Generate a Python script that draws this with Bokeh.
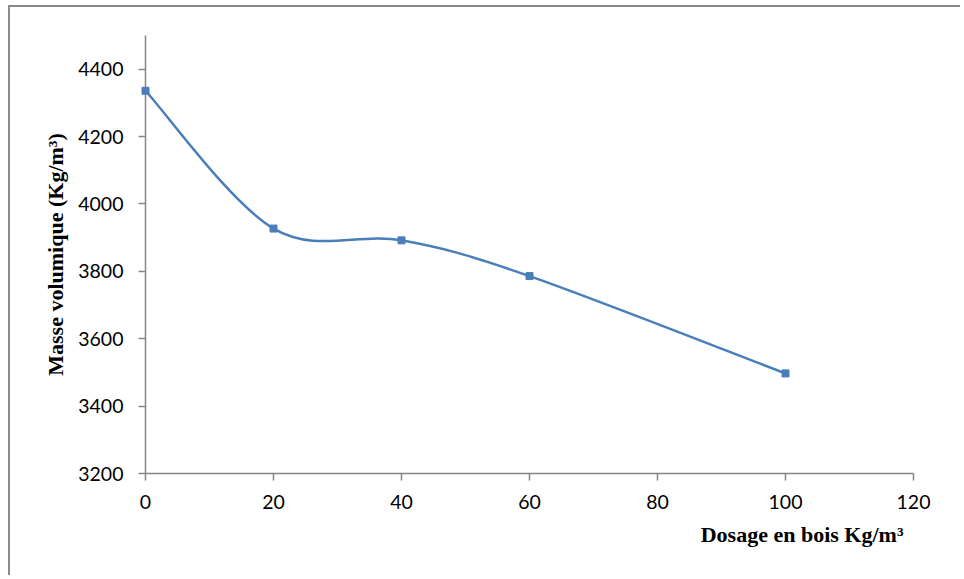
from bokeh.plotting import figure
from bokeh.models import Range1d, FixedTicker, Title, ColumnDataSource
from bokeh.embed import file_html
from bokeh.resources import INLINE

# ---- data ----
dosage = [0, 20, 40, 60, 100]                 # Dosage en bois (Kg/m³)
masse = [4336, 3927, 3892, 3786, 3497]        # Masse volumique (Kg/m³)
x_ticks = [0, 20, 40, 60, 80, 100, 120]
y_ticks = [3200, 3400, 3600, 3800, 4000, 4200, 4400]

x_title = "Dosage en bois Kg/m³"
y_title = "Masse volumique (Kg/m³)"

# ---- Excel-like smoothed line: Catmull-Rom -> cubic Bezier segments ----
n = len(dosage)
x0, y0, x1, y1, cx0, cy0, cx1, cy1 = [], [], [], [], [], [], [], []
for i in range(n - 1):
    pa = (dosage[max(i - 1, 0)], masse[max(i - 1, 0)])
    pb = (dosage[i], masse[i])
    pc = (dosage[i + 1], masse[i + 1])
    pd = (dosage[min(i + 2, n - 1)], masse[min(i + 2, n - 1)])
    x0.append(pb[0]); y0.append(pb[1])
    x1.append(pc[0]); y1.append(pc[1])
    cx0.append(pb[0] + (pc[0] - pa[0]) / 6.0)
    cy0.append(pb[1] + (pc[1] - pa[1]) / 6.0)
    cx1.append(pc[0] - (pd[0] - pb[0]) / 6.0)
    cy1.append(pc[1] - (pd[1] - pb[1]) / 6.0)

curve = ColumnDataSource(dict(x0=x0, y0=y0, x1=x1, y1=y1,
                              cx0=cx0, cy0=cy0, cx1=cx1, cy1=cy1))
pts = ColumnDataSource(dict(x=dosage, y=masse))

BLUE = "#4a7ebb"
AXIS = "#868686"

p = figure(width=952, height=570, output_backend="svg", toolbar_location=None,
           x_range=Range1d(0, 120), y_range=Range1d(3200, 4500),
           min_border_left=135, min_border_right=49,
           min_border_top=28, min_border_bottom=104,
           background_fill_color="white", border_fill_color="white")
p.styles = {"border-top": "2px solid #8a8a8a", "border-left": "2px solid #8a8a8a",
            "margin-left": "8px", "margin-top": "5px"}
p.outline_line_color = None
p.grid.visible = False

for ax, ticks in ((p.xaxis, x_ticks), (p.yaxis, y_ticks)):
    ax.ticker = FixedTicker(ticks=ticks)
    ax.axis_line_color = AXIS
    ax.axis_line_width = 1.5
    ax.major_tick_line_color = AXIS
    ax.major_tick_line_width = 1.5
    ax.major_tick_out = 7
    ax.major_tick_in = 0
    ax.minor_tick_line_color = None
    ax.major_label_text_font = "Lato"
    ax.major_label_text_font_size = "19.5px"
    ax.major_label_text_color = "black"

p.xaxis.major_label_standoff = 14
p.yaxis.major_label_standoff = 15

p.yaxis.axis_label = y_title
p.yaxis.axis_label_text_font = "Liberation Serif"
p.yaxis.axis_label_text_font_style = "bold"
p.yaxis.axis_label_text_font_size = "22px"
p.yaxis.axis_label_text_color = "black"
p.yaxis.axis_label_standoff = 7

t = Title(text=x_title, align="right", offset=10, standoff=17,
          text_font="Liberation Serif", text_font_style="bold",
          text_font_size="22px", text_color="black")
p.add_layout(t, "below")

p.bezier(x0="x0", y0="y0", x1="x1", y1="y1", cx0="cx0", cy0="cy0",
         cx1="cx1", cy1="cy1", source=curve, line_color=BLUE,
         line_width=2.5, level="overlay")
p.scatter(x="x", y="y", source=pts, marker="square", size=7,
          fill_color=BLUE, line_color=BLUE, level="overlay")

open("out.html", "w").write(file_html(p, INLINE))
